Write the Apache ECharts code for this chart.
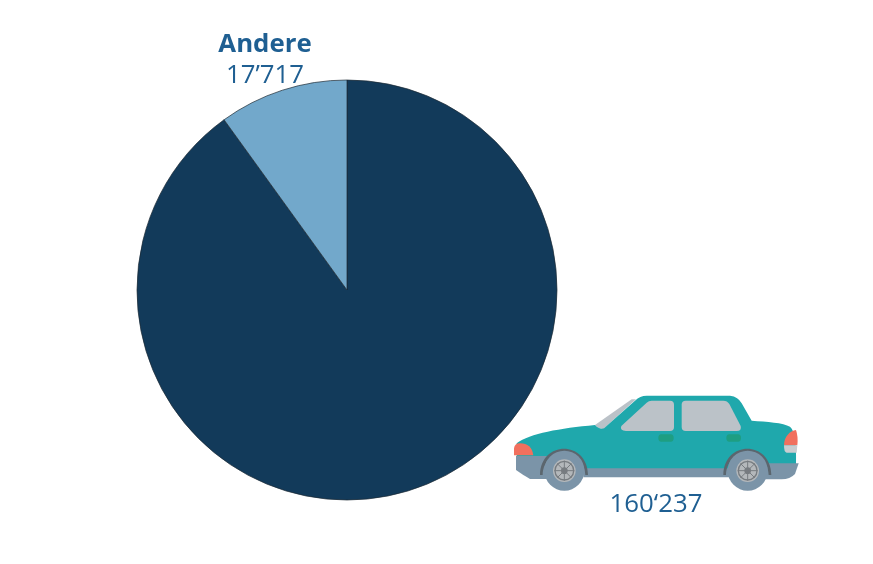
<!DOCTYPE html>
<html>
<head>
<meta charset="utf-8">
<style>html,body{margin:0;padding:0;background:#fff}#main{width:873px;height:564px}</style>
<script src="https://cdn.jsdelivr.net/npm/echarts@6/dist/echarts.min.js"></script>
</head>
<body>
<div id="main"></div>
<script>
var categories = ['Auto', 'Andere'];
var values = [160237, 17717];
var valueLabels = ['160‘237', '17’717'];
var sliceColors = ['#123A5A', '#72A8CB'];

var textColor = '#1F5F92';
var font = '"Open Sans"';

// car illustration, path coordinates are 3x the size it is drawn at
function wheel(cx, cy) {
    var parts = [
        {type: 'circle', shape: {cx: cx, cy: cy, r: 60}, style: {fill: '#7B94A8'}},
        {type: 'circle', shape: {cx: cx, cy: cy, r: 34}, style: {fill: '#B4B8BB'}},
        {type: 'circle', shape: {cx: cx, cy: cy, r: 28}, style: {fill: 'none', stroke: '#777C80', lineWidth: 4}},
        {type: 'circle', shape: {cx: cx, cy: cy, r: 10}, style: {fill: '#777C80'}}
    ];
    // spokes
    for (var i = 0; i < 8; i++) {
        var a = i * Math.PI / 4;
        parts.push({
            type: 'line',
            shape: {x1: cx, y1: cy, x2: cx + 30 * Math.cos(a), y2: cy + 30 * Math.sin(a)},
            style: {stroke: '#777C80', lineWidth: 3}
        });
    }
    return parts;
}

function pathEl(d, fill) {
    return {type: 'path', shape: {pathData: d}, style: {fill: fill}};
}

var carParts = [
    // windscreen sliver
    pathEl('M285 135 L395 58 L408 58 L310 147 Q298 148 285 135 Z', '#BBC2C8'),
    // body
    pathEl('M50 190 C90 160 180 145 285 135 Q300 150 312 145 L405 62 Q420 47 440 47 L690 47 Q715 50 725 70 L755 122 C800 125 850 128 870 140 Q890 155 888 252 L800 252 L800 268 L140 268 L140 230 L50 230 Z', '#1FA8AC'),
    // windows
    pathEl('M364 138 L440 68 Q446 62 455 62 L510 62 Q522 62 522 74 L522 142 Q522 153 510 153 L378 153 Q358 152 364 138 Z', '#BBC2C8'),
    pathEl('M545 74 Q545 62 557 62 L670 62 Q682 62 688 72 L722 138 Q726 153 710 153 L557 153 Q545 153 545 142 Z', '#BBC2C8'),
    // handles
    pathEl('M484 163 L512 163 Q521 163 521 174 Q521 185 512 185 L484 185 Q475 185 475 174 Q475 163 484 163 Z', '#1E9E82'),
    pathEl('M688 163 L714 163 Q723 163 723 174 Q723 185 714 185 L688 185 Q679 185 679 174 Q679 163 688 163 Z', '#1E9E82'),
    // lights
    pathEl('M42 226 L42 205 Q44 190 60 190 Q95 190 100 226 Z', '#F1705E'),
    pathEl('M852 196 C852 170 870 152 888 150 Q895 170 892 196 Z', '#F1705E'),
    pathEl('M852 196 L892 196 L890 218 L860 218 Q852 218 852 196 Z', '#C9CDD0'),
    // lower trim
    pathEl('M48 228 L140 228 L140 297 L90 297 Q78 290 70 285 L48 270 Z', '#7B94A8'),
    pathEl('M250 265 L690 265 L690 292 L250 292 Z', '#7B94A8'),
    pathEl('M790 250 L896 250 L885 282 Q870 298 845 298 L790 298 Z', '#7B94A8'),
    // wheel arches
    pathEl('M120 285 C122 180 262 180 264 285 L256 285 C252 195 132 195 128 285 Z', '#5B666E'),
    pathEl('M670 285 C672 180 812 180 814 285 L806 285 C802 195 682 195 678 285 Z', '#5B666E')
].concat(wheel(193, 272), wheel(743, 272));

var option = {
    animation: false,
    backgroundColor: '#fff',
    series: [
        {
            type: 'pie',
            center: [347, 290],
            radius: [0, 210],
            startAngle: 90,
            silent: true,
            itemStyle: {borderColor: '#1c2a33', borderWidth: 0.7},
            labelLine: {show: false},
            label: {
                show: true,
                fontFamily: font,
                color: textColor,
                fontSize: 25.8,
                formatter: function (p) {
                    var txt = valueLabels[p.dataIndex];
                    return p.name === 'Andere' ? '{b|' + p.name + '}\n{v|' + txt + '}' : '{v|' + txt + '}';
                },
                rich: {
                    b: {fontFamily: font, fontSize: 25.8, fontWeight: 'bold', color: textColor, lineHeight: 31, align: 'center'},
                    v: {fontFamily: font, fontSize: 25.8, color: textColor, lineHeight: 31, align: 'center'}
                }
            },
            labelLayout: function (p) {
                return p.dataIndex === 1
                    ? {x: 265, y: 60, align: 'center', verticalAlign: 'middle'}
                    : {x: 656, y: 505, align: 'center', verticalAlign: 'middle'};
            },
            data: categories.map(function (c, i) {
                return {name: c, value: values[i], itemStyle: {color: sliceColors[i]}};
            })
        },
        {
            // the car is only decoration, custom series because graphic has no path type
            type: 'custom',
            coordinateSystem: 'none',
            silent: true,
            data: [[0]],
            renderItem: function () {
                return {
                    type: 'group',
                    x: 500,
                    y: 380,
                    scaleX: 1 / 3,
                    scaleY: 1 / 3,
                    children: carParts
                };
            }
        }
    ]
};

var myChart = echarts.init(document.getElementById('main'));
myChart.setOption(option);
</script>
</body>
</html>
